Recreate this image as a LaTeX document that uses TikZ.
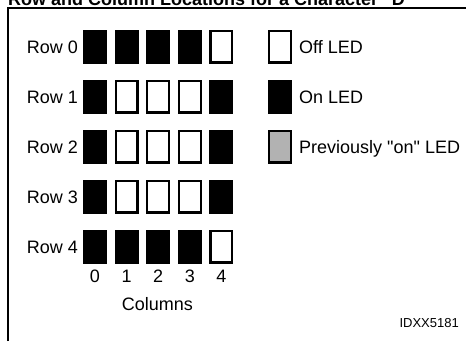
\documentclass[tikz,border=0pt]{standalone}
\usepackage{fontspec}
\setmainfont{Liberation Sans}
\usetikzlibrary{positioning}

\begin{document}
\begin{tikzpicture}[x=1pt,y=-1pt,
  ledon/.style={fill=black,minimum width=24pt,minimum height=34pt,inner sep=0pt},
  ledoff/.style={draw=black,line width=2.2pt,fill=white,minimum width=21.8pt,minimum height=31.8pt,inner sep=0pt},
  ledprev/.style={ledoff,fill=black!30},
  lbl/.style={font=\fontsize{18}{21}\selectfont,inner sep=0pt}]
  \useasboundingbox (0,0) rectangle (466,341);
  % Title, cut off by the top edge
  \node[lbl,font=\fontsize{18}{21}\selectfont\bfseries,anchor=base west] (title) at (8,5) {Row and Column Locations for a Character \textquotedbl D\textquotedbl};
  % Frame
  \draw[line width=1.6pt] (8,341) -- (8,8) -- (466,8);
  % LED matrix, one row at a time
  \foreach \s [count=\c from 0] in {ledon,ledon,ledon,ledon,ledoff}
    \node[\s] (r0c\c) at (95+31.6*\c,46.5) {};
  \foreach \s [count=\c from 0] in {ledon,ledoff,ledoff,ledoff,ledon}
    \node[\s] (r1c\c) at (95+31.6*\c,96.5) {};
  \foreach \s [count=\c from 0] in {ledon,ledoff,ledoff,ledoff,ledon}
    \node[\s] (r2c\c) at (95+31.6*\c,146.5) {};
  \foreach \s [count=\c from 0] in {ledon,ledoff,ledoff,ledoff,ledon}
    \node[\s] (r3c\c) at (95+31.6*\c,196.5) {};
  \foreach \s [count=\c from 0] in {ledon,ledon,ledon,ledon,ledoff}
    \node[\s] (r4c\c) at (95+31.6*\c,246.5) {};
  % Row labels
  \foreach \r in {0,...,4}
    \node[lbl,anchor=base east] (row\r) at (78,53.5+50*\r) {Row \r};
  % Column numbers
  \foreach \c in {0,...,4}
    \node[lbl,anchor=base] (col\c) at (95+31.6*\c,282) {\c};
  \node[lbl,anchor=base] (columns) at (157.5,310) {Columns};
  % Legend
  \node[ledoff] (keyoff) at (280,46.5) {};
  \node[lbl,anchor=base west] (keyofftext) at (299,53.5) {Off LED};
  \node[ledon] (keyon) at (280,96.5) {};
  \node[lbl,anchor=base west] (keyontext) at (299,103.5) {On LED};
  \node[ledprev] (keyprev) at (280,146.5) {};
  \node[lbl,anchor=base west] (keyprevtext) at (299,153.5) {Previously \textquotedbl on\textquotedbl{} LED};
  % Figure id
  \node[lbl,font=\fontsize{13}{15}\selectfont,anchor=base east] (figid) at (459,327) {IDXX5181};
\end{tikzpicture}
\end{document}
